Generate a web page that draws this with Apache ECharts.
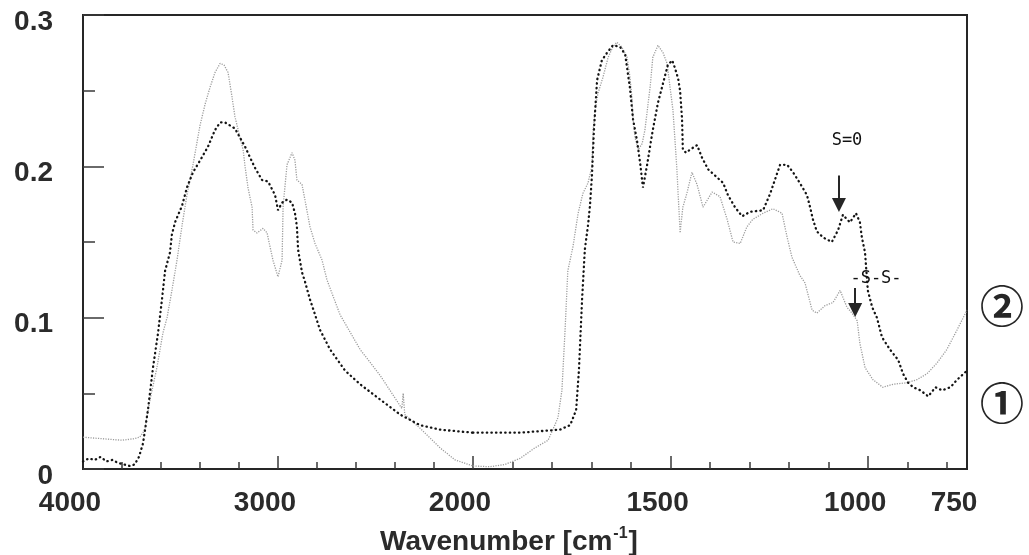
<!DOCTYPE html>
<html><head><meta charset="utf-8">
<script src="https://cdn.jsdelivr.net/npm/echarts@6/dist/echarts.min.js"></script>
<style>html,body{margin:0;padding:0;background:#fff}#c{width:1029px;height:555px}</style>
</head><body><div id="c"></div>
<script>
// Curve ① (black dotted): wavenumber [cm-1] and absorbance
const wn1 = [4000,3970,3940,3910,3880,3850,3820,3790,3760,3735,3713,3692,3667,3641,3615,3595,3579,3554,3544,3528,3492,3467,3436,3390,3359,3323,3297,3272,3246,3221,3195,3169,3144,3118,3082,3051,3015,3000,2979,2954,2928,2913,2903,2897,2877,2862,2836,2810,2785,2733,2656,2579,2477,2374,2272,2169,2000,1881,1780,1754,1739,1732,1724,1717,1709,1704,1699,1694,1686,1674,1661,1646,1628,1615,1603,1595,1585,1577,1570,1560,1552,1545,1532,1519,1507,1496,1489,1481,1476,1471,1469,1461,1451,1433,1421,1405,1388,1367,1355,1337,1319,1299,1266,1248,1223,1205,1190,1173,1155,1147,1140,1130,1114,1092,1076,1064,1054,1046,1031,1021,1016,1008,1001,990,978,965,945,924,912,899,886,868,848,830,813,792,775,750];
const ab1 = [0.005,0.007,0.006,0.008,0.005,0.006,0.004,0.003,0.002,0.003,0.008,0.017,0.039,0.067,0.090,0.112,0.131,0.143,0.155,0.163,0.174,0.186,0.196,0.206,0.213,0.224,0.229,0.229,0.227,0.225,0.219,0.213,0.206,0.199,0.191,0.190,0.181,0.171,0.176,0.178,0.176,0.169,0.160,0.145,0.130,0.124,0.112,0.102,0.092,0.079,0.065,0.056,0.046,0.036,0.029,0.026,0.024,0.024,0.026,0.029,0.039,0.065,0.112,0.145,0.161,0.174,0.194,0.224,0.257,0.270,0.275,0.280,0.279,0.274,0.252,0.231,0.217,0.202,0.186,0.200,0.213,0.224,0.242,0.255,0.267,0.270,0.265,0.258,0.250,0.231,0.211,0.209,0.211,0.214,0.206,0.198,0.194,0.189,0.181,0.173,0.167,0.170,0.171,0.182,0.201,0.201,0.196,0.189,0.181,0.173,0.165,0.157,0.153,0.150,0.158,0.168,0.165,0.163,0.169,0.163,0.153,0.143,0.118,0.107,0.100,0.087,0.079,0.072,0.063,0.057,0.054,0.052,0.048,0.054,0.052,0.054,0.059,0.065];
// Curve ② (grey dotted)
const wn2 = [4000,3900,3800,3740,3710,3692,3682,3656,3621,3590,3569,3544,3518,3492,3467,3436,3400,3374,3349,3323,3297,3277,3256,3236,3221,3195,3179,3169,3154,3133,3128,3108,3077,3056,3041,3026,3000,2979,2974,2954,2928,2913,2903,2877,2862,2836,2810,2774,2749,2682,2579,2477,2385,2365,2358,2350,2272,2169,2092,2000,1957,1919,1881,1843,1810,1793,1785,1775,1767,1760,1747,1734,1722,1709,1699,1696,1691,1684,1671,1658,1646,1636,1624,1610,1603,1598,1595,1590,1582,1572,1565,1552,1545,1532,1519,1509,1494,1484,1476,1469,1459,1446,1433,1418,1395,1375,1357,1342,1324,1307,1292,1266,1241,1218,1205,1193,1173,1160,1142,1130,1109,1089,1071,1054,1041,1028,1021,1008,988,963,937,902,877,851,826,801,775,750];
const ab2 = [0.021,0.020,0.019,0.020,0.021,0.024,0.027,0.046,0.067,0.090,0.100,0.118,0.138,0.161,0.181,0.201,0.227,0.241,0.252,0.262,0.268,0.267,0.262,0.246,0.233,0.219,0.211,0.200,0.186,0.173,0.158,0.156,0.159,0.156,0.147,0.138,0.127,0.138,0.173,0.201,0.209,0.204,0.191,0.188,0.178,0.160,0.149,0.138,0.125,0.102,0.079,0.062,0.044,0.040,0.050,0.036,0.027,0.014,0.006,0.002,0.0015,0.003,0.007,0.014,0.019,0.029,0.034,0.052,0.092,0.131,0.147,0.169,0.182,0.189,0.200,0.224,0.237,0.248,0.259,0.272,0.279,0.282,0.279,0.272,0.259,0.246,0.231,0.219,0.211,0.215,0.224,0.252,0.272,0.280,0.275,0.268,0.237,0.198,0.156,0.173,0.182,0.196,0.188,0.173,0.183,0.180,0.165,0.150,0.149,0.160,0.165,0.169,0.172,0.169,0.153,0.140,0.128,0.123,0.105,0.103,0.108,0.110,0.118,0.107,0.103,0.098,0.083,0.067,0.059,0.054,0.056,0.057,0.059,0.063,0.070,0.079,0.092,0.105];

// Axis ticks / labels (split wavenumber scale: 4000-2000 and 2000-750)
const leftMinorTicks = [3800,3600,3400,3200,2800,2600,2400,2200];
const leftMajorTicks = [3000];
const leftLabels = [4000,3000];
const rightMinorTicks = [1900,1800,1700,1600,1400,1300,1200,1100,900,800];
const rightMajorTicks = [2000,1500,1000];
const rightLabels = [2000,1500,1000,750];
const yLabels = ['0','0.1','0.2','0.3'];

// Annotation arrows [wavenumber, start value, end value]
const arrowWn = [1074,1033];
const arrowFrom = [0.194,0.1196];
const arrowTo = [0.1745,0.1051];

function pick(wn, ab, lo, hi){
  const out=[];
  for(let i=0;i<wn.length;i++){ if(wn[i]>=lo && wn[i]<=hi) out.push([wn[i],ab[i]]); }
  return out;
}

const ink = '#262626';
const lbl = {fontFamily:'Liberation Sans, Arial, sans-serif', fontWeight:'bold', fontSize:28, color:'#2b2b2b'};
const blackLine = {color:'#141414', width:2.3, type:[0.4,4.2], cap:'round'};
const greyLine = {color:'#9c9c9c', width:1.3, type:[1.2,1.3]};

function xAx(grid, min, max, ticks, len, labels, line){
  return {
    gridIndex:grid, type:'value', min:min, max:max, inverse:true, position:'bottom',
    axisLine:{show:line, onZero:false, lineStyle:{color:ink, width:2}},
    axisTick:{show:true, inside:true, length:len, customValues:ticks, lineStyle:{color:'#3a3a3a', width:1.5}},
    axisLabel:labels ? Object.assign({show:true, customValues:labels, margin:20, padding:[0,26,0,0], formatter:(v)=>String(v)}, lbl) : {show:false},
    splitLine:{show:false}
  };
}

const chart = echarts.init(document.getElementById('c'));
chart.setOption({
  animation:false,
  backgroundColor:'#fff',
  grid:[
    {left:83, top:15, width:390, height:454},
    {left:473, top:15, width:494, height:454},
    {left:83, top:15, width:884, height:454, show:true, borderColor:ink, borderWidth:2, backgroundColor:'transparent'}
  ],
  xAxis:[
    xAx(0,2000,4000,leftMinorTicks,7,leftLabels,true),
    xAx(0,2000,4000,leftMajorTicks,13,null,false),
    xAx(1,750,2000,rightMinorTicks,7,rightLabels,true),
    xAx(1,750,2000,rightMajorTicks,13,null,false),
    {gridIndex:2, type:'value', min:0, max:1, show:false}
  ],
  yAxis:[
    {gridIndex:0, type:'value', min:0, max:0.3, interval:0.1,
     axisLine:{show:true, lineStyle:{color:ink, width:2}},
     axisTick:{show:true, inside:true, length:21, lineStyle:{color:'#3a3a3a', width:1.5}},
     minorTick:{show:true, splitNumber:2, length:12, lineStyle:{color:'#3a3a3a', width:1.5}},
     axisLabel:Object.assign({margin:30, verticalAlign:'top', lineHeight:14, formatter:(v)=>yLabels[Math.round(v*10)]}, lbl),
     splitLine:{show:false}},
    {gridIndex:1, type:'value', min:0, max:0.3, interval:0.1, show:false, splitLine:{show:false}},
    {gridIndex:2, type:'value', min:0, max:1, show:false}
  ],
  title:{
    text:'{a|Wavenumber [cm}{s|-1}{a|]}', left:375, top:521,
    textStyle:{rich:{
      a:Object.assign({lineHeight:32}, lbl),
      s:{fontFamily:'Liberation Sans, Arial, sans-serif', fontWeight:'bold', fontSize:16, color:'#2b2b2b', verticalAlign:'top', lineHeight:32, padding:[0,1,14,1]}
    }}
  },
  series:[
    {name:'①', type:'line', xAxisIndex:0, yAxisIndex:0, data:pick(wn1,ab1,2000,4000), showSymbol:false, symbol:'none', lineStyle:blackLine, z:3},
    {name:'①', type:'line', xAxisIndex:2, yAxisIndex:1, data:pick(wn1,ab1,750,2000), showSymbol:false, symbol:'none', lineStyle:blackLine, z:3,
     markLine:{silent:true, symbol:['none','triangle'], symbolSize:[14,14],
       lineStyle:{type:'solid', color:ink, width:2}, label:{show:false},
       data:arrowWn.map((w,i)=>[{coord:[w,arrowFrom[i]]},{coord:[w,arrowTo[i]]}])}},
    {name:'②', type:'line', xAxisIndex:0, yAxisIndex:0, data:pick(wn2,ab2,2000,4000), showSymbol:false, symbol:'none', lineStyle:greyLine, z:2},
    {name:'②', type:'line', xAxisIndex:2, yAxisIndex:1, data:pick(wn2,ab2,750,2000), showSymbol:false, symbol:'none', lineStyle:greyLine, z:2}
  ],
  graphic:[
    {type:'text', x:1002, y:306, style:{text:'②', font:'bold 44px "Noto Sans CJK JP"', fill:ink, align:'center', verticalAlign:'middle'}},
    {type:'text', x:1002, y:403, style:{text:'①', font:'bold 44px "Noto Sans CJK JP"', fill:ink, align:'center', verticalAlign:'middle'}},
    {type:'text', x:847, y:141, style:{text:'S=0', font:'17px "DejaVu Sans Mono"', fill:'#111', align:'center', verticalAlign:'middle'}},
    {type:'text', x:876, y:279, style:{text:'-S-S-', font:'17px "DejaVu Sans Mono"', fill:'#111', align:'center', verticalAlign:'middle'}}
  ]
});
</script></body></html>
